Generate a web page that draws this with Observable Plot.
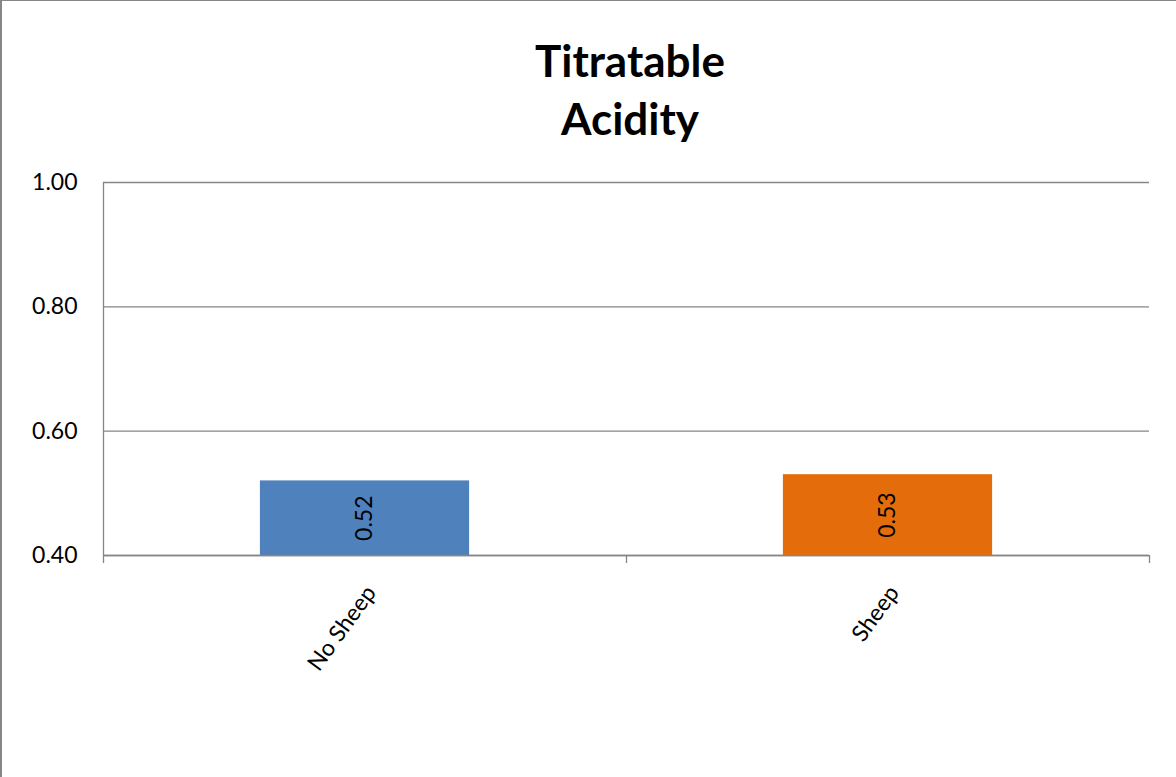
<!DOCTYPE html>
<html>
<head>
<meta charset="utf-8">
<script src="https://cdn.jsdelivr.net/npm/d3@7"></script>
<script src="https://cdn.jsdelivr.net/npm/@observablehq/plot@0.6"></script>
<style>
  html, body { margin: 0; padding: 0; background: #fff; }
  #chart {
    position: relative;
    width: 1176px;
    height: 777px;
    overflow: hidden;
    font-family: Lato, "Open Sans", sans-serif;
  }
  #chart .edge-left { position: absolute; left: 0; top: 0; width: 2px; height: 777px; background: #868686; }
  #chart .edge-top { position: absolute; left: 0; top: 0; width: 1176px; height: 1px; background: #868686; }
  #title {
    height: 150px;
    box-sizing: border-box;
    padding-top: 31px;
    padding-left: 84px;
    text-align: center;
    font-weight: bold;
    font-size: 44px;
    line-height: 58px;
    color: #000;
  }
</style>
</head>
<body>
<div id="chart">
  <div id="title">Titratable<br>Acidity</div>
  <div class="edge-left"></div>
  <div class="edge-top"></div>
</div>
<script>
// Titratable acidity by treatment
const categories = ["No Sheep", "Sheep"];
const values = [0.52, 0.53];
const barColors = ["#4F81BD", "#E46C0A"];
const yTicks = [0.40, 0.60, 0.80, 1.00];

const yMin = yTicks[0];
const yMax = yTicks[yTicks.length - 1];
const fmt = d3.format(".2f");
const gridColor = "#868686";

const rows = categories.map((category, i) => ({
  category,
  value: values[i],
  color: barColors[i],
  index: i
}));

// Category slots are unit-wide intervals on a linear x scale so that the
// axis ticks fall on slot boundaries, with the bar in the middle 40%.
const slotEdges = d3.range(categories.length + 1);
const barGap = 0.3;

const chart = Plot.plot({
  width: 1176,
  height: 627,
  marginTop: 32,
  marginBottom: 222,
  marginLeft: 103,
  marginRight: 27,
  style: { fontFamily: "Lato, 'Open Sans', sans-serif", color: "#000", background: "transparent" },
  x: { type: "linear", domain: [0, categories.length], axis: null },
  y: { domain: [yMin, yMax], axis: null },
  marks: [
    Plot.gridY(yTicks, { stroke: gridColor, strokeOpacity: 1, strokeWidth: 1.3 }),
    Plot.rectY(rows, {
      x1: d => d.index + barGap,
      x2: d => d.index + 1 - barGap,
      y1: yMin,
      y2: "value",
      fill: d => d.color
    }),
    Plot.ruleX([0], { y1: yMin, y2: yMax, stroke: gridColor, strokeWidth: 1.3 }),
    Plot.ruleY([yMin], { stroke: gridColor, strokeWidth: 1.3 }),
    Plot.axisX({
      ticks: slotEdges,
      tickSize: 8,
      tickFormat: () => "",
      stroke: gridColor,
      strokeWidth: 1.3,
      label: null
    }),
    Plot.axisY({
      ticks: yTicks,
      tickSize: 0,
      tickPadding: 26,
      tickFormat: fmt,
      fontSize: 23,
      fill: "#000",
      label: null
    }),
    Plot.text(rows, {
      x: d => d.index + 0.5,
      y: d => (yMin + d.value) / 2,
      text: d => fmt(d.value),
      rotate: -90,
      fontSize: 23,
      fill: "#000"
    }),
    Plot.text(rows, {
      x: d => d.index + 0.5,
      y: yMin,
      text: "category",
      rotate: -54,
      textAnchor: "end",
      dx: 6,
      dy: 33,
      fontSize: 23,
      fill: "#000"
    })
  ]
});

document.getElementById("chart").appendChild(chart);
</script>
</body>
</html>
